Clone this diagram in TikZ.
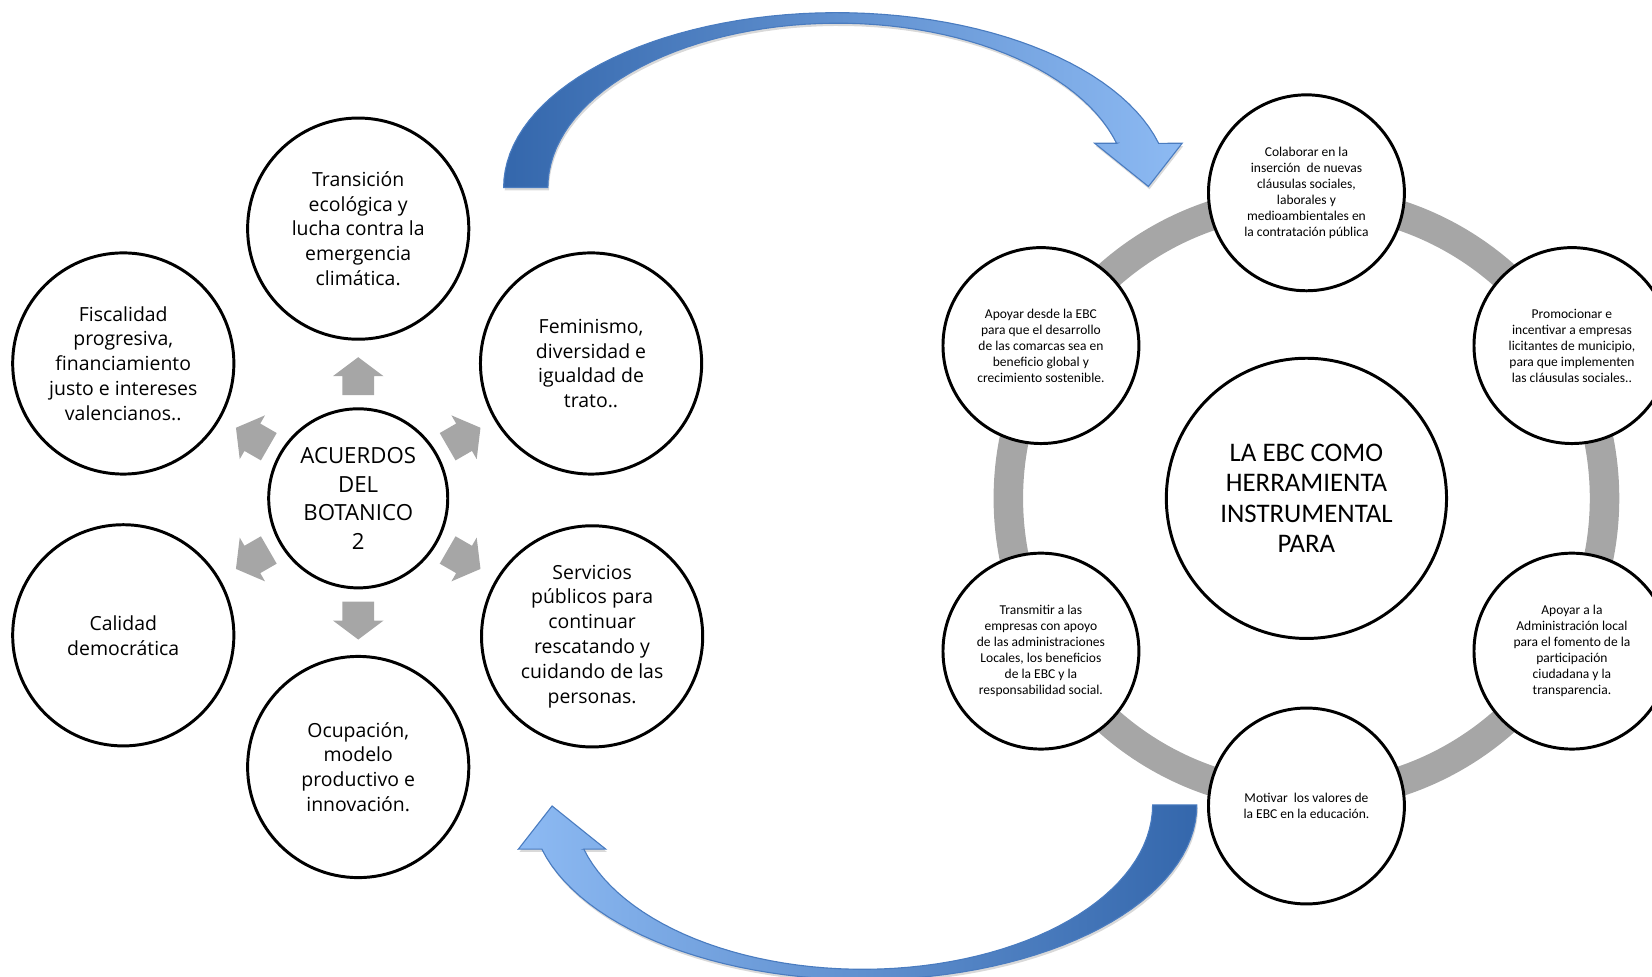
\documentclass[tikz,border=0pt]{standalone}
\usepackage{fontspec}
\setmainfont{Open Sans}
\newfontfamily\calibri{Carlito}
\usetikzlibrary{shadows}

\definecolor{ringgray}{HTML}{A6A6A6}
\definecolor{arrowdark}{HTML}{3467AC}
\definecolor{arrowlight}{HTML}{8DBAF3}
\definecolor{arrowedge}{HTML}{4A7CC0}

\begin{document}
\begin{tikzpicture}[x=0.02cm, y=-0.02cm,
						% Define the styles for the circles and arrows
						big circle/.style={circle, draw=black, line width=1.6pt, fill=white, minimum size=4.2cm, inner sep=0pt, align=center, font=\fontsize{10.5}{13.4}\selectfont},
						hub circle/.style={big circle, minimum size=3.4cm, font=\fontsize{12}{15.4}\selectfont},
						small circle/.style={circle, draw=black, line width=1.6pt, fill=white, minimum size=3.72cm, inner sep=0pt, align=center, font=\calibri\fontsize{7.3}{8.6}\selectfont},
						ebc circle/.style={small circle, minimum size=5.32cm, font=\calibri\fontsize{14.5}{16.5}\selectfont},
						block arrow/.style={fill=ringgray},
						swoosh/.style={draw=arrowedge, line width=0.6pt, drop shadow={opacity=0.3, shadow xshift=0.6pt, shadow yshift=-1.5pt}}
						]
						\path[use as bounding box, clip] (0,0) rectangle (1568,927);
						
						% --- Left group ---
						\node[hub circle] (acuerdos) at (340,473) {ACUERDOS\\DEL\\BOTANICO\\2};
						\node[big circle] (transicion) at (340,217) {Transición\\ecológica y\\lucha contra la\\emergencia\\climática.};
						\node[big circle] (fiscalidad) at (117,345) {Fiscalidad\\progresiva,\\financiamiento\\justo e intereses\\valencianos..};
						\node[big circle] (feminismo) at (561,345) {Feminismo,\\diversidad e\\igualdad de\\trato..};
						\node[big circle] (servicios) at (562,604) {Servicios\\públicos para\\continuar\\rescatando y\\cuidando de las\\personas.};
						\node[big circle] (calidad) at (117,603) {Calidad\\democrática};
						\node[big circle] (ocupacion) at (340,728) {Ocupación,\\modelo\\productivo e\\innovación.};
						
						% gray block arrows round the hub
						\foreach \ang in {90,30,-30,-90,-150,150}
						\fill[block arrow, shift={(acuerdos.center)}, rotate=\ang] (98,-15) -- (116,-15) -- (116,-24) -- (134,0) -- (116,24) -- (116,15) -- (98,15) -- cycle;
						
						% --- Right group ---
						\node[ebc circle] (ebc) at (1240,473) {LA EBC COMO\\HERRAMIENTA\\INSTRUMENTAL\\PARA};
						\draw[ringgray, line width=0.56cm] (ebc.center) circle[radius=5.66cm];
						\node[small circle] (colaborar) at (1240,183) {Colaborar en la\\inserción\ \ de nuevas\\cláusulas sociales,\\laborales y\\medioambientales en\\la contratación pública};
						\node[small circle] (promocionar) at (1492,328) {Promocionar e\\incentivar a empresas\\licitantes de municipio,\\para que implementen\\las cláusulas sociales..};
						\node[small circle] (administracion) at (1492,618) {Apoyar a la\\Administración local\\para el fomento de la\\participación\\ciudadana y la\\transparencia.};
						\node[small circle] (motivar) at (1240,765) {Motivar\ \ los valores de\\la EBC en la educación.};
						\node[small circle] (transmitir) at (988,618) {Transmitir a las\\empresas con apoyo\\de las administraciones\\Locales, los beneficios\\de la EBC y la\\responsabilidad social.};
						\node[small circle] (comarcas) at (988,328) {Apoyar desde la EBC\\para que el desarrollo\\de las comarcas sea en\\beneficio global y\\crecimiento sostenible.};
						
						% --- Draw the curved blue arrows ---
						\path[swoosh, left color=arrowdark, right color=arrowlight]
						plot[domain=180:345.35, samples=60] ({794+316*cos(\x)}, {178+166*sin(\x)})
						-- (1122,136) -- (1090,177) -- (1039,136) -- (1060,136)
						-- plot[domain=344.4:180, samples=60] ({795+275*cos(\x)}, {178+156*sin(\x)})
						-- cycle;
						\path[swoosh, left color=arrowlight, right color=arrowdark]
						plot[domain=180:345.35, samples=60] ({820-316*cos(\x)}, {764-166*sin(\x)})
						-- (492,806) -- (524,765) -- (575,806) -- (554,806)
						-- plot[domain=344.4:180, samples=60] ({819-275*cos(\x)}, {764-156*sin(\x)})
						-- cycle;
					\end{tikzpicture}
\end{document}
